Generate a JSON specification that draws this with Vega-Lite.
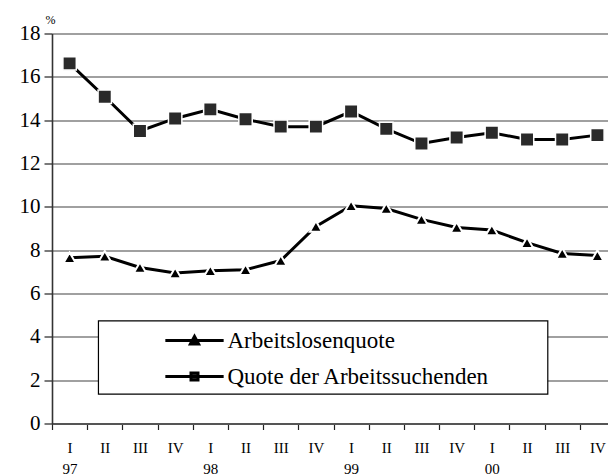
{
  "$schema": "https://vega.github.io/schema/vega-lite/v6.json",
  "width": 563,
  "height": 390,
  "autosize": "none",
  "padding": {"left": 52, "top": 33.5, "right": 0, "bottom": 51.5},
  "background": "white",
  "config": {"view": {"stroke": null}, "font": "Liberation Serif, Times New Roman, serif"},
  "data": {
    "values": [
      {"q": "I-97", "series": "Arbeitslosenquote", "value": 7.65},
      {"q": "II-97", "series": "Arbeitslosenquote", "value": 7.72},
      {"q": "III-97", "series": "Arbeitslosenquote", "value": 7.2},
      {"q": "IV-97", "series": "Arbeitslosenquote", "value": 6.95},
      {"q": "I-98", "series": "Arbeitslosenquote", "value": 7.05},
      {"q": "II-98", "series": "Arbeitslosenquote", "value": 7.1},
      {"q": "III-98", "series": "Arbeitslosenquote", "value": 7.52},
      {"q": "IV-98", "series": "Arbeitslosenquote", "value": 9.1},
      {"q": "I-99", "series": "Arbeitslosenquote", "value": 10.05},
      {"q": "II-99", "series": "Arbeitslosenquote", "value": 9.92},
      {"q": "III-99", "series": "Arbeitslosenquote", "value": 9.42},
      {"q": "IV-99", "series": "Arbeitslosenquote", "value": 9.05},
      {"q": "I-00", "series": "Arbeitslosenquote", "value": 8.93},
      {"q": "II-00", "series": "Arbeitslosenquote", "value": 8.35},
      {"q": "III-00", "series": "Arbeitslosenquote", "value": 7.85},
      {"q": "IV-00", "series": "Arbeitslosenquote", "value": 7.75},
      {"q": "I-97", "series": "Quote der Arbeitssuchenden", "value": 16.62},
      {"q": "II-97", "series": "Quote der Arbeitssuchenden", "value": 15.08},
      {"q": "III-97", "series": "Quote der Arbeitssuchenden", "value": 13.5},
      {"q": "IV-97", "series": "Quote der Arbeitssuchenden", "value": 14.08},
      {"q": "I-98", "series": "Quote der Arbeitssuchenden", "value": 14.5},
      {"q": "II-98", "series": "Quote der Arbeitssuchenden", "value": 14.04},
      {"q": "III-98", "series": "Quote der Arbeitssuchenden", "value": 13.7},
      {"q": "IV-98", "series": "Quote der Arbeitssuchenden", "value": 13.7},
      {"q": "I-99", "series": "Quote der Arbeitssuchenden", "value": 14.4},
      {"q": "II-99", "series": "Quote der Arbeitssuchenden", "value": 13.6},
      {"q": "III-99", "series": "Quote der Arbeitssuchenden", "value": 12.92},
      {"q": "IV-99", "series": "Quote der Arbeitssuchenden", "value": 13.2},
      {"q": "I-00", "series": "Quote der Arbeitssuchenden", "value": 13.42},
      {"q": "II-00", "series": "Quote der Arbeitssuchenden", "value": 13.11},
      {"q": "III-00", "series": "Quote der Arbeitssuchenden", "value": 13.11},
      {"q": "IV-00", "series": "Quote der Arbeitssuchenden", "value": 13.31}
    ]
  },
  "layer": [
    {
      "data": {"values": [{"x1": 1.32, "x2": 14.09, "y1": 1.36, "y2": 4.74}]},
      "mark": {"type": "rect", "fill": "white", "stroke": "black", "strokeWidth": 1.2},
      "encoding": {
        "x": {"field": "x1", "type": "quantitative", "scale": {"domain": [0, 16], "nice": false, "zero": false}, "axis": null},
        "x2": {"field": "x2"},
        "y": {"field": "y1", "type": "quantitative", "scale": {"domain": [0, 18], "nice": false},
          "axis": {
            "values": [0, 2, 4, 6, 8, 10, 12, 14, 16, 18],
            "grid": true, "gridColor": "#808080", "gridWidth": 1.4,
            "labelFontSize": 21, "labelColor": "black", "labelPadding": 4,
            "tickSize": 8, "tickColor": "#222222", "tickWidth": 1.2,
            "domainColor": "#333333", "domainWidth": 1.6,
            "title": "%", "titleAngle": 0, "titleFontSize": 12, "titleFontWeight": "normal",
            "titleColor": "black", "titleX": -2, "titleY": -14, "titleAlign": "center", "titleBaseline": "middle"
          }},
        "y2": {"field": "y2"}
      }
    },
    {
      "layer": [
        {
          "mark": {"type": "line", "strokeWidth": 3},
          "encoding": {
            "x": {"field": "q", "type": "nominal", "sort": null,
              "scale": {"paddingInner": 0, "paddingOuter": 0},
              "axis": {
                "title": null, "labelAngle": 0, "tickBand": "extent",
                "labelExpr": "isString(datum.value) ? (split(datum.value, '-')[0] == 'I' ? split(datum.value, '-') : split(datum.value, '-')[0]) : ''",
                "labelFontSize": 15, "labelColor": "black", "labelLineHeight": 21,
                "labelPadding": 11, "labelBaseline": "top",
                "tickSize": 6, "tickColor": "#222222", "tickWidth": 1.2,
                "domainColor": "#555555", "domainWidth": 2, "grid": false
              }},
            "y": {"field": "value", "type": "quantitative"},
            "color": {"field": "series", "type": "nominal",
              "scale": {"domain": ["Arbeitslosenquote", "Quote der Arbeitssuchenden"], "range": ["black", "black"]},
              "legend": {
                "title": null, "orient": "none", "legendX": 111.5, "legendY": 289,
                "symbolSize": 3400, "clipHeight": 36, "rowPadding": 0, "labelOffset": 2,
                "labelFontSize": 23, "labelColor": "black", "labelLimit": 400,
                "encode": {
                  "symbols": {
                    "update": {
                      "shape": {"signal": "datum.value === 'Arbeitslosenquote' ? 'M-1,0H1M-0.14,0.12L0,-0.14L0.14,0.12Z' : 'M-1,0H1M-0.12,-0.12H0.12V0.12H-0.12Z'"},
                      "fill": {"signal": "datum.value === 'Arbeitslosenquote' ? 'black' : '#444444'"},
                      "stroke": {"value": "black"},
                      "strokeWidth": {"value": 3},
                      "size": {"value": 3400},
                      "opacity": {"value": 1}
                    }
                  }
                }
              }}
          }
        },
        {
          "transform": [{"filter": "datum.series === 'Arbeitslosenquote'"}],
          "mark": {"type": "point", "shape": "triangle-up", "filled": true, "opacity": 1, "fill": "black", "size": 150, "stroke": "white", "strokeWidth": 2, "strokeOpacity": 1},
          "encoding": {
            "x": {"field": "q", "type": "nominal", "sort": null},
            "y": {"field": "value", "type": "quantitative"}
          }
        },
        {
          "transform": [{"filter": "datum.series === 'Quote der Arbeitssuchenden'"}],
          "mark": {"type": "point", "shape": "square", "filled": true, "opacity": 1, "fill": "#2a2a2a", "size": 180, "stroke": "white", "strokeWidth": 1.5, "strokeOpacity": 1},
          "encoding": {
            "x": {"field": "q", "type": "nominal", "sort": null},
            "y": {"field": "value", "type": "quantitative"}
          }
        }
      ]
    }
  ],
  "resolve": {"scale": {"x": "independent"}}
}
